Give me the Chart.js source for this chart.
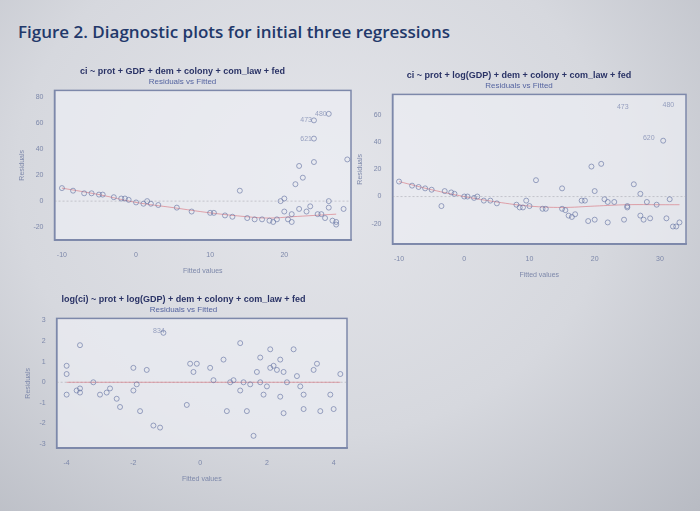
<!DOCTYPE html>
<html><head><meta charset="utf-8">
<script src="https://cdn.jsdelivr.net/npm/chart.js@4"></script>
<style>
body{margin:0;width:700px;height:511px;overflow:hidden;font-family:"Open Sans",sans-serif;
background:radial-gradient(ellipse at 45% 35%,#e4e5ea 0%,#d6d8de 55%,#b8bbc3 100%);position:relative}
h1{position:absolute;left:18px;top:20px;margin:0;font-size:17px;color:#22386a;font-weight:600}
.c{position:absolute}
</style></head><body>
<h1>Figure 2. Diagnostic plots for initial three regressions</h1>
<div class="c" style="left:14px;top:64px;width:345px;height:215px"><canvas id="c1"></canvas></div>
<div class="c" style="left:352px;top:68px;width:342px;height:215px"><canvas id="c2"></canvas></div>
<div class="c" style="left:20px;top:292px;width:335px;height:195px"><canvas id="c3"></canvas></div>
<script>
// plot 1: ci ~ prot + GDP + ...
var fit1 = [-10,-8.5,-7,-6,-5,-4.5,-3,-2,-1.5,-1,0,1,1.5,2,3,5.5,7.5,10,10.5,12,13,14,15,16,17,18,18.5,19,19.5,20,20,20.5,21,21.5,22,22.5,21,22,23,24,24,24,25,25.5,26,26,26.5,27,27,28,28.5,23.5,24.5,26];
var res1 = [10,8,6,6,5,5,3,2,2,1,-1,-2,0,-2,-3,-5,-8,-9,-9,-11,-12,8,-13,-14,-14,-15,-16,-14,0,2,-8,-14,-10,13,27,18,-16,-6,-8,30,48,62,-10,-13,67,0,-15,-16,-18,-6,32,-4,-10,-5];
var smoothX1 = [-10,-5,0,5,10,15,18,21,24,27];
var smoothY1 = [10,5,-1,-5,-9,-12,-13,-12,-11,-10];
var labels1 = [[26,67,'480'],[24,62,'473'],[24,48,'621']];
var xTicks1 = [-10,0,10,20];
var yTicks1 = [-20,0,20,40,60,80];

// plot 2: ci ~ prot + log(GDP) + ...
var fit2 = [-10,-8,-7,-6,-5,-3,-3.5,-2,-1.5,0,0.5,1.5,2,3,4,5,8,8.5,9,9.5,10,11,12,12.5,15,15,15.5,16,16.5,17,18,18.5,19,19.5,20,20,21,21.5,22,22,23,24.5,25,25,26,27,27,27.5,28,28.5,29.5,30.5,31,31.5,32,32.5,33];
var res2 = [11,8,7,6,5,4,-7,3,2,0,0,-1,0,-3,-3,-5,-6,-8,-8,-3,-7,12,-9,-9,-9,6,-10,-14,-15,-13,-3,-3,-18,22,-17,4,24,-2,-4,-19,-4,-17,-7,-8,9,-14,2,-17,-4,-16,-6,41,-16,-2,-22,-22,-19,66];
var smoothX2 = [-10,-5,0,5,10,15,20,25,30,33];
var smoothY2 = [11,5,0,-4,-7,-8,-7,-6,-6,-6];
var labels2 = [[25.5,66,'473'],[32.5,67,'480'],[29.5,43,'620']];
var xTicks2 = [-10,0,10,20,30];
var yTicks2 = [-20,0,20,40,60];

// plot 3: log(ci) ~ prot + log(GDP) + ...
var fit3 = [-4,-4,-4,-3.6,-3.6,-3.6,-3.7,-3.2,-3,-2.8,-2.7,-2.5,-2.4,-2,-2,-1.9,-1.8,-1.6,-1.4,-1.2,-1.1,-0.4,-0.3,-0.2,-0.1,0.3,0.4,0.7,0.8,0.9,1,1.2,1.2,1.3,1.4,1.5,1.6,1.7,1.8,1.8,1.9,2.0,2.1,2.1,2.2,2.3,2.4,2.4,2.5,2.5,2.6,2.8,2.9,3.0,3.1,3.1,3.4,3.5,3.6,3.9,4.0,4.2];
var res3 = [0.8,0.4,-0.6,1.8,-0.3,-0.5,-0.4,0,-0.6,-0.5,-0.3,-0.8,-1.2,0.7,-0.4,-0.1,-1.4,0.6,-2.1,-2.2,2.4,-1.1,0.9,0.5,0.9,0.7,0.1,1.1,-1.4,0,0.1,1.9,-0.4,0,-1.4,-0.1,-2.6,0.5,1.2,0,-0.6,-0.2,1.6,0.7,0.8,0.6,-0.7,1.1,0.5,-1.5,0,1.6,0.3,-0.2,-1.3,-0.6,0.6,0.9,-1.4,-0.6,-1.3,0.4];
var smoothX3 = [-4,-3,-2,-1,0,1,2,3,4.2];
var smoothY3 = [0,0,0,0,0,0,0,0,0];
var labels3 = [[-1,2.5,'834']];
var xTicks3 = [-4,-2,0,2,4];
var yTicks3 = [-3,-2,-1,0,1,2,3];

var ptColor = 'rgba(105,118,165,0.65)';
var axColor = '#7d88aa';

var pointLabels = {
  id: 'pointLabels',
  afterDatasetsDraw: function(chart) {
    var lab = chart.options.plugins.pointLabels.items, c = chart.ctx;
    c.save(); c.font = '7px "Liberation Sans"'; c.fillStyle = ptColor; c.textAlign = 'right';
    lab.forEach(function(l) {
      c.fillText(l[2], chart.scales.x.getPixelForValue(l[0]) - 2, chart.scales.y.getPixelForValue(l[1]) + 2);
    });
    c.restore();
  }
};

function makeChart(id, fx, ry, sx, sy, labs, title, xr, yr, xt, yt) {
  var pts = fx.map(function(v, i) { return {x: v, y: ry[i]}; });
  var sm = sx.map(function(v, i) { return {x: v, y: sy[i]}; });
  new Chart(document.getElementById(id), {
    type: 'scatter',
    data: {datasets: [
      {data: pts, pointRadius: 2.5, borderColor: ptColor, backgroundColor: 'rgba(0,0,0,0)', borderWidth: 1},
      {data: sm, showLine: true, pointRadius: 0, borderColor: 'rgba(215,110,120,0.6)', borderWidth: 1, tension: 0.4},
      {data: [{x: xr[0], y: 0}, {x: xr[1], y: 0}], showLine: true, pointRadius: 0, borderColor: 'rgba(160,160,170,0.5)', borderWidth: 1, borderDash: [2, 2]}
    ]},
    options: {
      responsive: true, maintainAspectRatio: false, animation: false,
      layout: {padding: {right: 8}},
      plugins: {
        legend: {display: false}, tooltip: {enabled: false},
        title: {display: true, text: title, color: '#2a3366', font: {size: 9, weight: 'bold', family: 'Liberation Sans'}, padding: {top: 2, bottom: 0}},
        subtitle: {display: true, text: 'Residuals vs Fitted', color: '#5564a0', font: {size: 8, family: 'Liberation Sans'}, padding: {bottom: 4}},
        pointLabels: {items: labs}
      },
      scales: {
        x: {min: xr[0], max: xr[1], grid: {display: false, tickColor: axColor},
            border: {color: axColor, width: 1.5},
            afterBuildTicks: function(s) { s.ticks = xt.map(function(v) { return {value: v}; }); },
            ticks: {color: axColor, font: {size: 7}},
            title: {display: true, text: 'Fitted values', color: axColor, font: {size: 7}}},
        y: {min: yr[0], max: yr[1], grid: {display: false, tickColor: axColor},
            border: {color: axColor, width: 1.5},
            afterBuildTicks: function(s) { s.ticks = yt.map(function(v) { return {value: v}; }); },
            ticks: {color: axColor, font: {size: 7}},
            title: {display: true, text: 'Residuals', color: axColor, font: {size: 7}}}
      }
    },
    plugins: [pointLabels, {
      id: 'box',
      beforeDraw: function(chart) {
        var a = chart.chartArea, c = chart.ctx;
        c.save(); c.fillStyle = 'rgba(236,238,243,0.7)'; c.fillRect(a.left, a.top, a.width, a.height);
        c.strokeStyle = axColor; c.lineWidth = 1.5; c.strokeRect(a.left, a.top, a.width, a.height); c.restore();
      }
    }]
  });
}

makeChart('c1', fit1, res1, smoothX1, smoothY1, labels1, 'ci ~ prot + GDP + dem + colony + com_law + fed', [-11, 29], [-30, 85], xTicks1, yTicks1);
makeChart('c2', fit2, res2, smoothX2, smoothY2, labels2, 'ci ~ prot + log(GDP) + dem + colony + com_law + fed', [-11, 34], [-35, 75], xTicks2, yTicks2);
makeChart('c3', fit3, res3, smoothX3, smoothY3, labels3, 'log(ci) ~ prot + log(GDP) + dem + colony + com_law + fed', [-4.3, 4.4], [-3.2, 3.1], xTicks3, yTicks3);
</script>
</body></html>
